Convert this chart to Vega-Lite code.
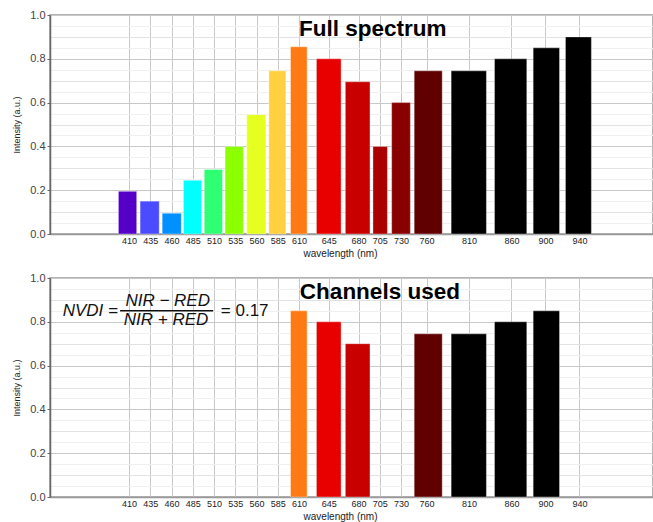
{
  "$schema": "https://vega.github.io/schema/vega-lite/v6.json",
  "background": "white",
  "padding": {"left": 11, "top": 8, "right": 0, "bottom": 0},
  "autosize": {"type": "pad"},
  "spacing": 44,
  "bounds": "flush",
  "datasets": {
    "full": [
      {"nm": "410", "start": 397.5, "end": 419, "intensity": 0.195},
      {"nm": "435", "start": 423, "end": 445.5, "intensity": 0.15},
      {"nm": "460", "start": 449, "end": 471.5, "intensity": 0.095},
      {"nm": "485", "start": 474, "end": 495.5, "intensity": 0.245},
      {"nm": "510", "start": 498.5, "end": 520, "intensity": 0.295},
      {"nm": "535", "start": 523, "end": 544.5, "intensity": 0.4},
      {"nm": "560", "start": 548.5, "end": 571, "intensity": 0.545},
      {"nm": "585", "start": 574.5, "end": 594.5, "intensity": 0.745},
      {"nm": "610", "start": 600, "end": 619.5, "intensity": 0.855},
      {"nm": "645", "start": 630.5, "end": 659.5, "intensity": 0.8},
      {"nm": "680", "start": 664.5, "end": 693.5, "intensity": 0.695},
      {"nm": "705", "start": 697, "end": 714, "intensity": 0.4},
      {"nm": "730", "start": 719, "end": 741, "intensity": 0.6},
      {"nm": "760", "start": 745.5, "end": 778.5, "intensity": 0.745},
      {"nm": "810", "start": 789, "end": 830.5, "intensity": 0.745},
      {"nm": "860", "start": 840, "end": 878, "intensity": 0.8},
      {"nm": "900", "start": 885.5, "end": 916.5, "intensity": 0.85},
      {"nm": "940", "start": 923.5, "end": 954, "intensity": 0.9}
    ],
    "used": [
      {"nm": "610", "start": 600, "end": 619.5, "intensity": 0.85},
      {"nm": "645", "start": 630.5, "end": 659.5, "intensity": 0.8},
      {"nm": "680", "start": 664.5, "end": 693.5, "intensity": 0.7},
      {"nm": "760", "start": 745.5, "end": 778.5, "intensity": 0.745},
      {"nm": "810", "start": 789, "end": 830.5, "intensity": 0.745},
      {"nm": "860", "start": 840, "end": 878, "intensity": 0.8},
      {"nm": "900", "start": 885.5, "end": 916.5, "intensity": 0.85}
    ]
  },
  "config": {
    "font": "Liberation Sans",
    "view": {"stroke": "#9a9a9a", "strokeWidth": 1.5},
    "axisX": {"labelOverlap": false, "labelFlush": false, "tickCount": 40},
    "axisY": {"tickCount": 40},
    "scale": {"continuousPadding": 0}
  },
  "vconcat": [
    {
      "width": 603,
      "height": 219,
      "layer": [
        {
          "data": {"name": "full"},
          "mark": {"type": "bar", "orient": "vertical", "stroke": "white", "strokeOpacity": 0.35, "strokeWidth": 1},
          "encoding": {
            "x": {
              "field": "start", "type": "quantitative",
              "scale": {"domain": [317, 1026.5], "nice": false, "zero": false},
              "axis": {
                "values": [410, 435, 460, 485, 510, 535, 560, 585, 610, 645, 680, 705, 730, 760, 810, 860, 900, 940],
                "tickCount": 40,
                "title": "wavelength (nm)", "titleFontSize": 10, "titleFontWeight": "normal", "titleColor": "#222",
                "titleX": 290, "titlePadding": 3,
                "labelFontSize": 9, "labelColor": "#222", "labelPadding": 2,
                "ticks": false, "domainColor": "#999", "domainWidth": 1.5,
                "grid": true, "gridColor": "#c8c8c8", "labelFlush": false, "labelOverlap": false
              }
            },
            "x2": {"field": "end"},
            "y": {
              "field": "intensity", "type": "quantitative",
              "scale": {"domain": [0, 1], "nice": false},
              "axis": {
                "values": [0, 0.05, 0.1, 0.15, 0.2, 0.25, 0.3, 0.35, 0.4, 0.45, 0.5, 0.55, 0.6, 0.65, 0.7, 0.75, 0.8, 0.85, 0.9, 0.95, 1],
                "tickCount": 40,
                "labelExpr": "abs(datum.value*5 - round(datum.value*5)) < 0.001 ? format(datum.value, '.1f') : ''",
                "title": "Intensity (a.u.)", "titleFontSize": 9, "titleFontWeight": "normal", "titleColor": "#222", "titlePadding": 8,
                "labelFontSize": 11, "labelColor": "#444", "labelPadding": 2, "labelOverlap": false,
                "tickSize": 3, "tickColor": "#666",
                "tickOpacity": {"condition": {"test": "abs(datum.value*5 - round(datum.value*5)) < 0.001", "value": 1}, "value": 0},
                "domainColor": "#666", "domainWidth": 1.5,
                "grid": true,
                "gridColor": {"condition": [
                  {"test": "abs(datum.value*5 - round(datum.value*5)) < 0.001", "value": "#c8c8c8"},
                  {"test": "abs(datum.value*10 - round(datum.value*10)) < 0.001", "value": "#e2e2e2"}
                ], "value": "#f0f0f0"}
              }
            },
            "y2": {"datum": 0},
            "color": {
              "field": "nm", "type": "nominal", "legend": null,
              "scale": {
                "domain": ["410", "435", "460", "485", "510", "535", "560", "585", "610", "645", "680", "705", "730", "760", "810", "860", "900", "940"],
                "range": ["#5500c8", "#4b4bff", "#0090ff", "#00ffff", "#2eff73", "#8cff00", "#e5ff20", "#ffd040", "#ff7a14", "#e80000", "#c80000", "#aa0000", "#880000", "#600000", "#000000", "#000000", "#000000", "#000000"]
              }
            }
          }
        },
        {
          "data": {"values": [{"title": "Full spectrum"}]},
          "mark": {"type": "text", "align": "left", "baseline": "alphabetic", "fontSize": 22.5, "fontWeight": "bold", "font": "Liberation Sans", "color": "#000"},
          "encoding": {
            "x": {"datum": 610, "type": "quantitative"},
            "y": {"datum": 0.905, "type": "quantitative"},
            "text": {"field": "title"}
          }
        }
      ]
    },
    {
      "width": 603,
      "height": 219,
      "layer": [
        {
          "data": {"name": "used"},
          "mark": {"type": "bar", "orient": "vertical", "stroke": "white", "strokeOpacity": 0.35, "strokeWidth": 1},
          "encoding": {
            "x": {
              "field": "start", "type": "quantitative",
              "scale": {"domain": [317, 1026.5], "nice": false, "zero": false},
              "axis": {
                "values": [410, 435, 460, 485, 510, 535, 560, 585, 610, 645, 680, 705, 730, 760, 810, 860, 900, 940],
                "tickCount": 40,
                "title": "wavelength (nm)", "titleFontSize": 10, "titleFontWeight": "normal", "titleColor": "#222",
                "titleX": 290, "titlePadding": 3,
                "labelFontSize": 9, "labelColor": "#222", "labelPadding": 2,
                "ticks": false, "domainColor": "#999", "domainWidth": 1.5,
                "grid": true, "gridColor": "#c8c8c8", "labelFlush": false, "labelOverlap": false
              }
            },
            "x2": {"field": "end"},
            "y": {
              "field": "intensity", "type": "quantitative",
              "scale": {"domain": [0, 1], "nice": false},
              "axis": {
                "values": [0, 0.05, 0.1, 0.15, 0.2, 0.25, 0.3, 0.35, 0.4, 0.45, 0.5, 0.55, 0.6, 0.65, 0.7, 0.75, 0.8, 0.85, 0.9, 0.95, 1],
                "tickCount": 40,
                "labelExpr": "abs(datum.value*5 - round(datum.value*5)) < 0.001 ? format(datum.value, '.1f') : ''",
                "title": "Intensity (a.u.)", "titleFontSize": 9, "titleFontWeight": "normal", "titleColor": "#222", "titlePadding": 8,
                "labelFontSize": 11, "labelColor": "#444", "labelPadding": 2, "labelOverlap": false,
                "tickSize": 3, "tickColor": "#666",
                "tickOpacity": {"condition": {"test": "abs(datum.value*5 - round(datum.value*5)) < 0.001", "value": 1}, "value": 0},
                "domainColor": "#666", "domainWidth": 1.5,
                "grid": true,
                "gridColor": {"condition": [
                  {"test": "abs(datum.value*5 - round(datum.value*5)) < 0.001", "value": "#c8c8c8"},
                  {"test": "abs(datum.value*10 - round(datum.value*10)) < 0.001", "value": "#e2e2e2"}
                ], "value": "#f0f0f0"}
              }
            },
            "y2": {"datum": 0},
            "color": {
              "field": "nm", "type": "nominal", "legend": null,
              "scale": {
                "domain": ["410", "435", "460", "485", "510", "535", "560", "585", "610", "645", "680", "705", "730", "760", "810", "860", "900", "940"],
                "range": ["#5500c8", "#4b4bff", "#0090ff", "#00ffff", "#2eff73", "#8cff00", "#e5ff20", "#ffd040", "#ff7a14", "#e80000", "#c80000", "#aa0000", "#880000", "#600000", "#000000", "#000000", "#000000", "#000000"]
              }
            }
          }
        },
        {
          "data": {"values": [{"title": "Channels used"}]},
          "mark": {"type": "text", "align": "left", "baseline": "alphabetic", "fontSize": 22.5, "fontWeight": "bold", "font": "Liberation Sans", "color": "#000"},
          "encoding": {
            "x": {"datum": 611, "type": "quantitative"},
            "y": {"datum": 0.905, "type": "quantitative"},
            "text": {"field": "title"}
          }
        },
        {
          "data": {"values": [{"t": "NVDI ="}]},
          "mark": {"type": "text", "align": "right", "baseline": "middle", "fontSize": 17, "fontStyle": "italic", "font": "Liberation Sans", "color": "#111"},
          "encoding": {
            "x": {"datum": 397, "type": "quantitative"},
            "y": {"datum": 0.85, "type": "quantitative"},
            "text": {"field": "t"}
          }
        },
        {
          "data": {"values": [{"t": "NIR − RED"}]},
          "mark": {"type": "text", "align": "center", "baseline": "middle", "fontSize": 17, "fontStyle": "italic", "font": "Liberation Sans", "color": "#111"},
          "encoding": {
            "x": {"datum": 455.5, "type": "quantitative"},
            "y": {"datum": 0.894, "type": "quantitative"},
            "text": {"field": "t"}
          }
        },
        {
          "data": {"values": [{"t": "NIR + RED"}]},
          "mark": {"type": "text", "align": "center", "baseline": "middle", "fontSize": 17, "fontStyle": "italic", "font": "Liberation Sans", "color": "#111"},
          "encoding": {
            "x": {"datum": 453.5, "type": "quantitative"},
            "y": {"datum": 0.807, "type": "quantitative"},
            "text": {"field": "t"}
          }
        },
        {
          "data": {"values": [{}]},
          "mark": {"type": "rule", "color": "#111", "strokeWidth": 1.5},
          "encoding": {
            "x": {"datum": 399.5, "type": "quantitative"},
            "x2": {"datum": 509},
            "y": {"datum": 0.851, "type": "quantitative"}
          }
        },
        {
          "data": {"values": [{"t": "= 0.17"}]},
          "mark": {"type": "text", "align": "left", "baseline": "middle", "fontSize": 17, "font": "Liberation Sans", "color": "#111"},
          "encoding": {
            "x": {"datum": 518, "type": "quantitative"},
            "y": {"datum": 0.85, "type": "quantitative"},
            "text": {"field": "t"}
          }
        }
      ]
    }
  ]
}
